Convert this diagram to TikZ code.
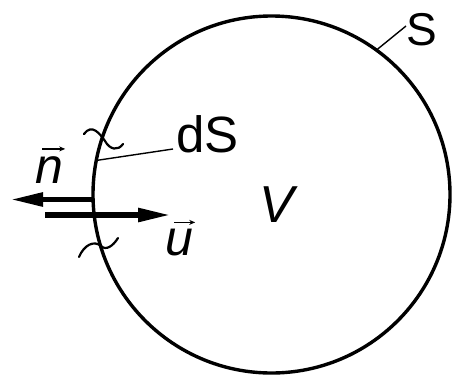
\documentclass[tikz,border=0pt]{standalone}
\usepackage{fontspec}
\setmainfont{Liberation Sans}
\usetikzlibrary{arrows.meta}
\tikzset{
  lbl/.style={anchor=base west, inner sep=0pt, font=\fontsize{46}{50}\selectfont},
  vlbl/.style={anchor=base west, inner sep=0pt, font=\fontsize{50}{54}\selectfont\itshape},
  vecacc/.style={line width=1.3pt, -{Stealth[length=6pt,width=5pt]}},
  leader/.style={line width=1.4pt},
  wavy/.style={line width=2.2pt, line cap=round},
  bigarrow/.style={line width=5.5pt, -{Triangle[length=33pt,width=13pt]}}
}
\begin{document}
\begin{tikzpicture}[x=1pt,y=-1pt]
\useasboundingbox (0,0) rectangle (455,378);
\node[draw, circle, line width=3.4pt, minimum size=357pt, inner sep=0pt, outer sep=0pt] (vol) at (271.5,194.5) {};
% labels
\node[lbl] (S) at (406,45) {S};
\node[lbl, font=\fontsize{51}{55}\selectfont] (dS) at (176,152) {dS};
\node[lbl, font=\fontsize{52}{56}\selectfont\itshape] (V) at (259,222) {V};
\node[vlbl] (n) at (35,183) {n};
\node[vlbl] (u) at (165,255) {u};
% vector accents
\draw[vecacc] ([xshift=7pt,yshift=7pt]n.north west) -- ([xshift=2pt,yshift=7pt]n.north east);
\draw[vecacc] ([xshift=9pt,yshift=6pt]u.north west) -- ([xshift=2pt,yshift=6pt]u.north east);
% leaders
\coordinate (Send) at (406,26);
\coordinate (dSend) at (173,149);
\draw[leader] (vol.54) -- (Send);
\draw[leader] (vol.169) -- (dSend);
% tildes
\draw[wavy] (84,134) .. controls (92,123) and (100,134) .. (105,141) .. controls (110,150) and (118,151) .. (123,144);
\draw[wavy] (79,257) .. controls (84,245) and (94,240) .. (101,246) .. controls (106,251) and (113,246) .. (118,238);
% arrows
\coordinate (nstart) at (93,199.5);
\coordinate (ntip) at (10,199.5);
\coordinate (ustart) at (45,215);
\coordinate (utip) at (171,215);
\draw[bigarrow] (nstart) -- (ntip);
\draw[bigarrow] (ustart) -- (utip);
\end{tikzpicture}
\end{document}
